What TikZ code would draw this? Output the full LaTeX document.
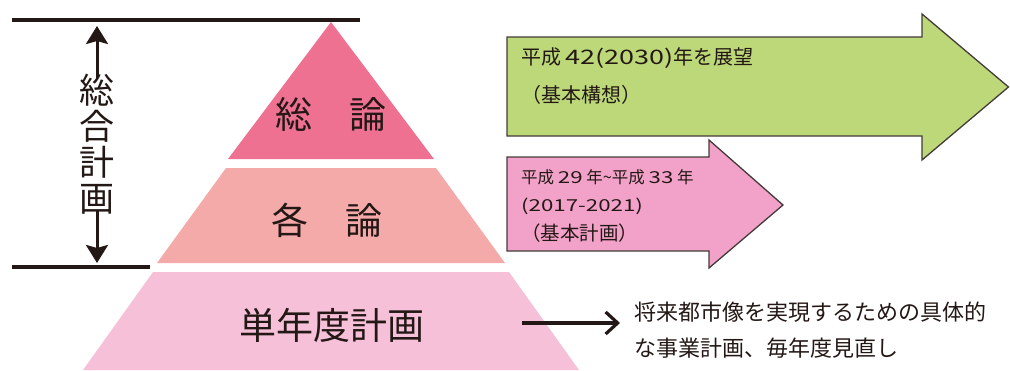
\documentclass[tikz,border=0pt]{standalone}
\usepackage{fontspec}
\usepackage{graphicx}
\setmainfont{Noto Sans CJK JP}
\usetikzlibrary{arrows.meta}
\definecolor{topc}{HTML}{EF7192}
\definecolor{midc}{HTML}{F5AAAA}
\definecolor{botc}{HTML}{F6C0D8}
\definecolor{greenc}{HTML}{BCD878}
\definecolor{pinkc}{HTML}{F2A2C8}
\definecolor{ink}{HTML}{231815}
\newcommand{\widedig}[1]{\scalebox{1.35}[1]{#1}}
\begin{document}
\begin{tikzpicture}[x=1pt,y=-1pt,
  rule/.style={line width=3.2pt,draw=ink},
  vtip/.style={line width=3pt,draw=ink,-{Stealth[length=18pt,width=22pt,inset=3pt]}},
  layertext/.style={text=ink,font=\fontsize{37}{37}\selectfont,inner sep=0pt},
  bigarrow/.style={draw=ink!85,line width=1.3pt,line join=miter},
  atext/.style={text=ink,anchor=west,inner sep=0pt},
]
\useasboundingbox (0,0) rectangle (1010,370);

% pyramid layers
\fill[topc] (331,22) -- (434,159) -- (228,159) -- cycle;
\fill[midc] (226,168) -- (436,168) -- (505,263) -- (157,263) -- cycle;
\fill[botc] (153,272) -- (509,272) -- (579,370) -- (83,370) -- cycle;

\node[layertext] (t1) at (331,114) {総\hspace{1em}論};
\node[layertext] (t2) at (327,220) {各\hspace{1em}論};
\node[layertext] (t3) at (332,325) {単年度計画};

% bracket lines
\coordinate (topL) at (12,20);
\coordinate (topR) at (360,20);
\coordinate (botL) at (12,267);
\coordinate (botR) at (150,267);
\draw[rule] (topL) -- (topR);
\draw[rule] (botL) -- (botR);

\node[text=ink,align=center,inner sep=0pt,font=\fontsize{35}{36}\selectfont] (sogo) at (97,144) {総\\合\\計\\画};
\coordinate (upTip) at (97,26);
\coordinate (downTip) at (97,263);
\draw[vtip] ([yshift=-4pt]sogo.north) -- (upTip);
\draw[vtip] ([yshift=3pt]sogo.south) -- (downTip);

% green arrow
\draw[bigarrow,fill=greenc] (507,37) -- (922,37) -- (922,14) -- (1008.5,87) -- (922,160) -- (922,136) -- (507,136) -- cycle;
\node[atext,font=\fontsize{20}{20}\selectfont] (g1) at (521,58) {平成 \widedig{42(2030)}年を展望};
\node[atext,font=\fontsize{20}{20}\selectfont] (g2) at (521,95) {（基本構想）};

% pink arrow
\draw[bigarrow,fill=pinkc] (507,157) -- (709,157) -- (709,140) -- (783,205) -- (709,268) -- (709,251) -- (507,251) -- cycle;
\node[atext,font=\fontsize{16.5}{16.5}\selectfont] (p1) at (521,177) {平成 \widedig{29} 年{\char"007E}平成 \widedig{33} 年};
\node[atext,font=\fontsize{16.5}{16.5}\selectfont] (p2) at (521,206) {\widedig{(2017-2021)}};
\node[atext,font=\fontsize{19.5}{19.5}\selectfont] (p3) at (521,233) {（基本計画）};

% bottom explanation
\node[atext,font=\fontsize{22}{22}\selectfont] (d1) at (634,312) {将来都市像を実現するための具体的};
\node[atext,font=\fontsize{22}{22}\selectfont] (d2) at (634,348) {な事業計画、毎年度見直し};
\coordinate (arrS) at (522,323);
\coordinate (arrE) at (620,323);
\draw[line width=3.2pt,draw=ink,-{Straight Barb[length=12pt,width=22pt]}] (arrS) -- (arrE);
\end{tikzpicture}
\end{document}
